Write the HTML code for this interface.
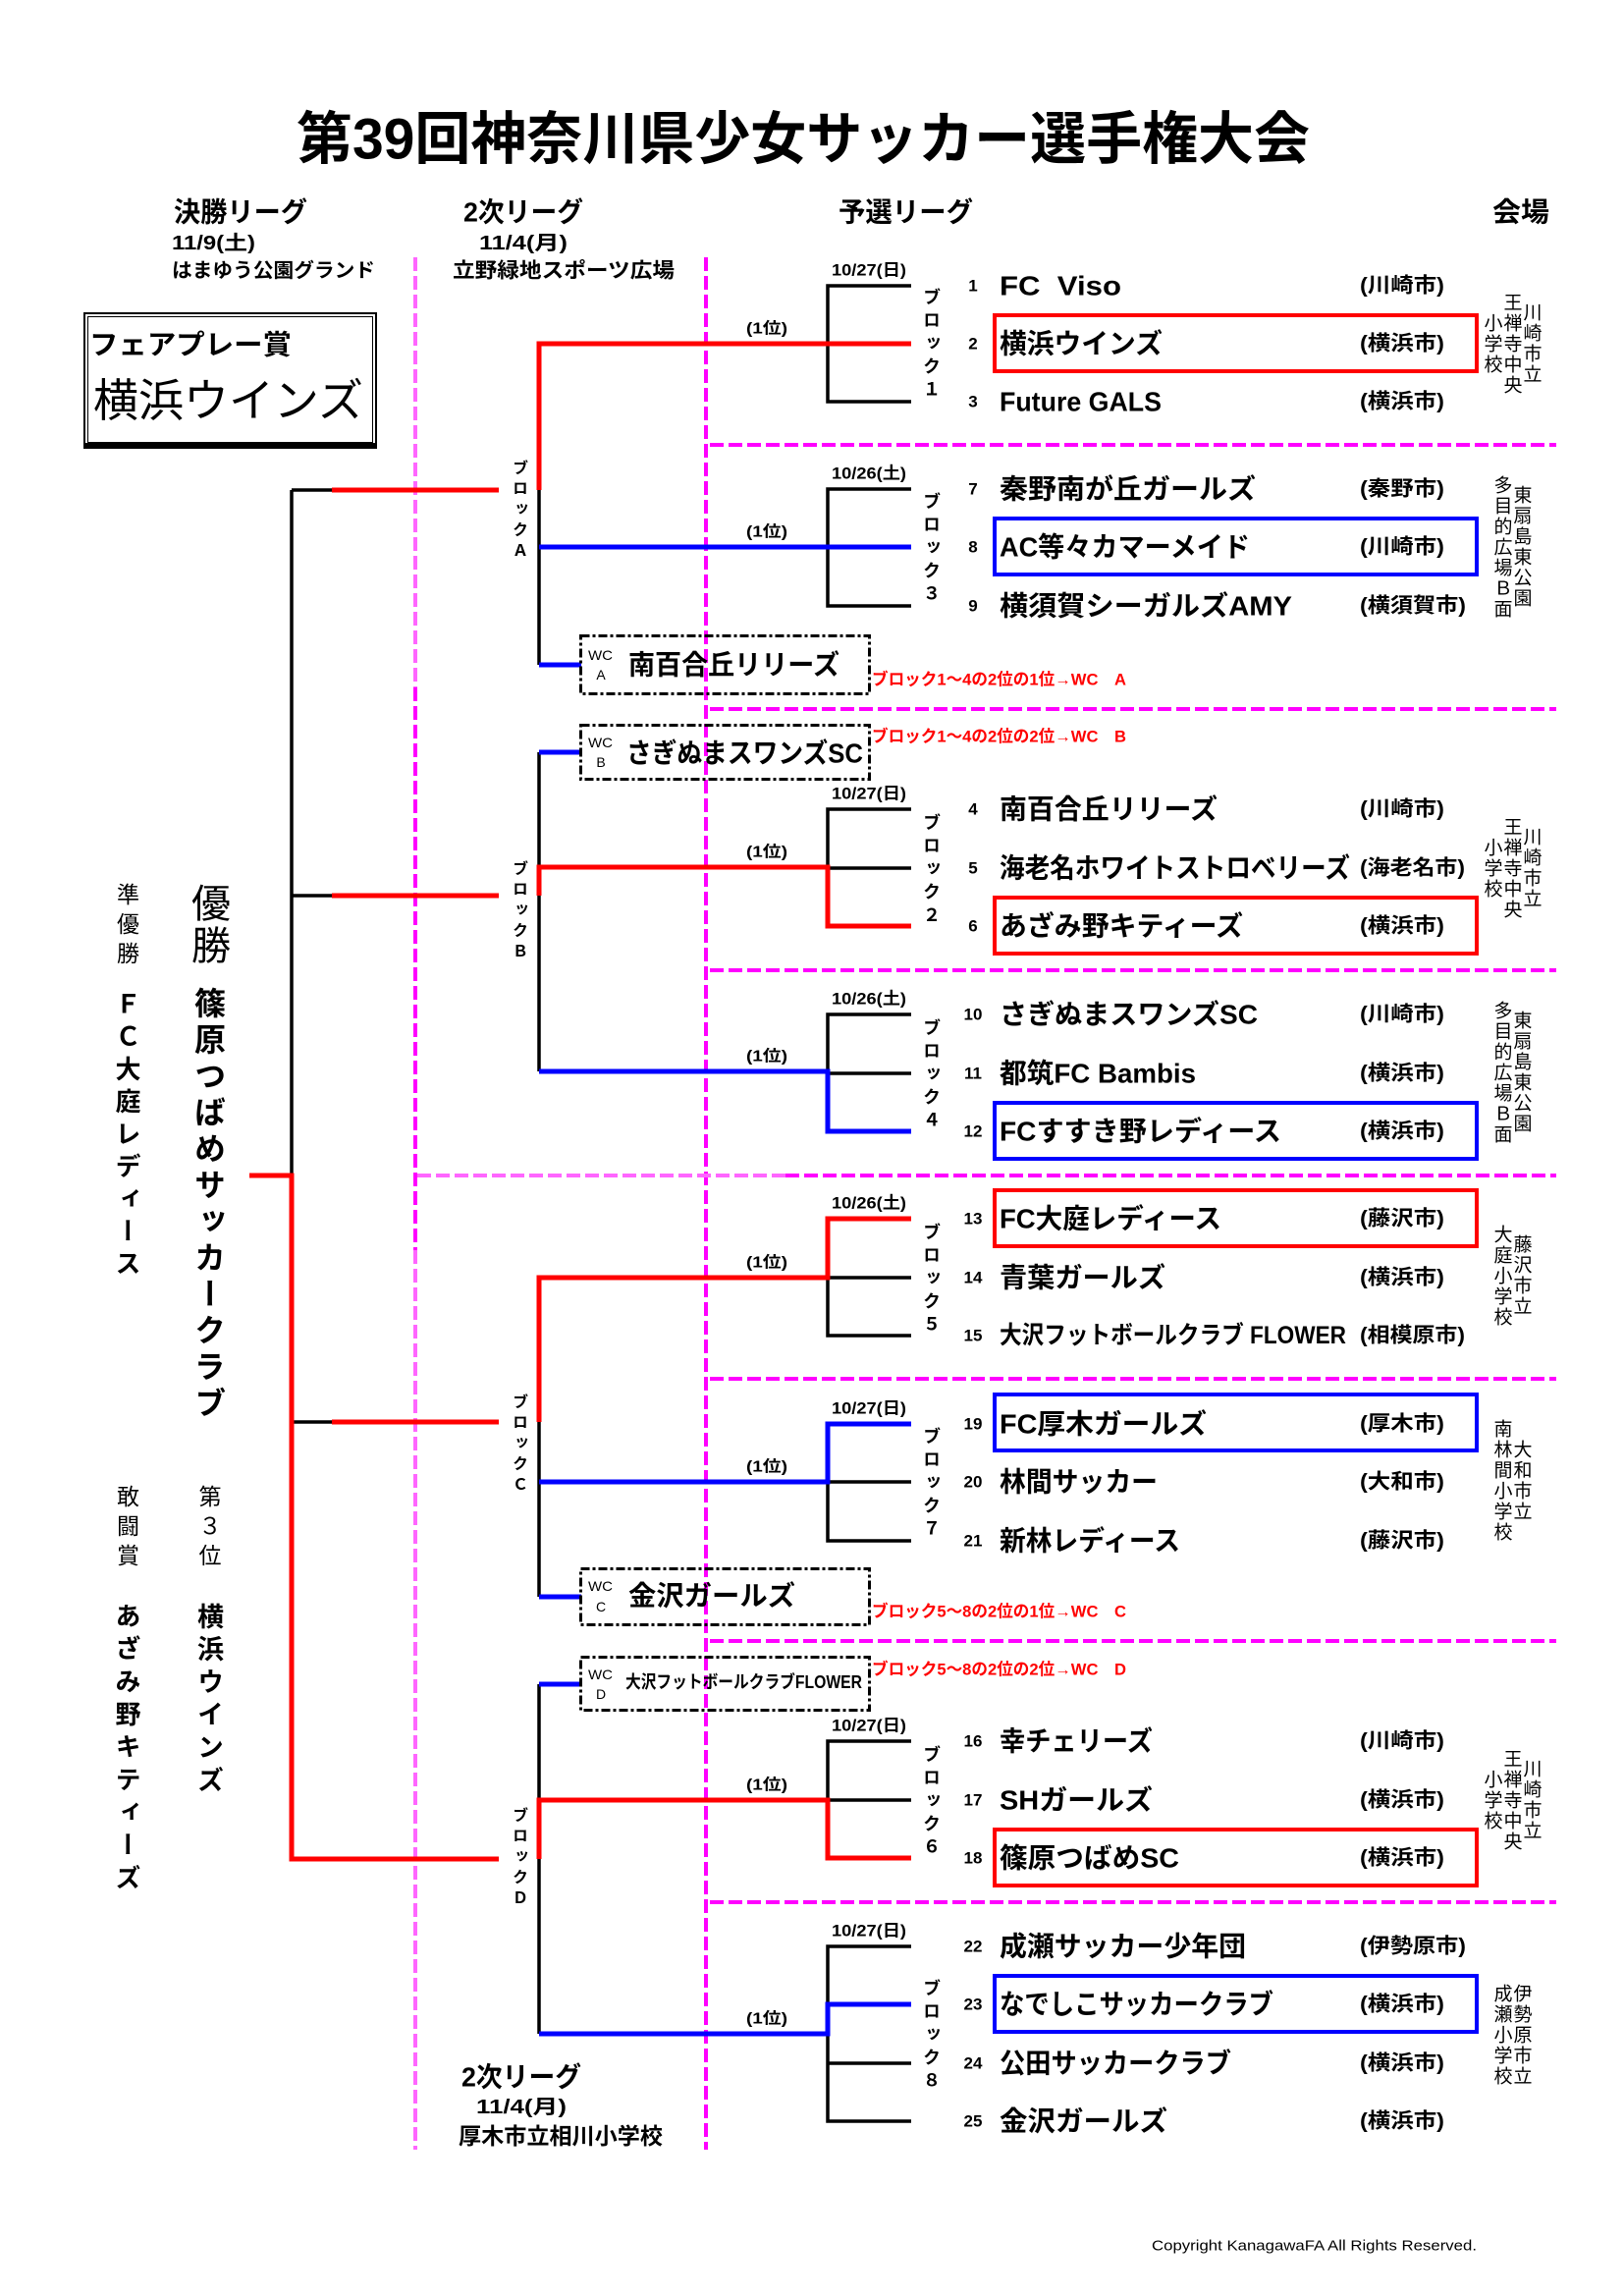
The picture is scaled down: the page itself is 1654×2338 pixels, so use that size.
<!DOCTYPE html>
<html lang="ja">
<head>
<meta charset="utf-8">
<style>
html,body{margin:0;padding:0;background:#fff;}
#wrap{position:relative;width:1654px;height:2338px;overflow:hidden;background:#fff;}
svg{position:absolute;left:0;top:0;}
svg text{dominant-baseline:central;font-family:"Liberation Sans","Noto Sans CJK JP",sans-serif;}
.v{position:absolute;writing-mode:vertical-rl;text-orientation:upright;font-family:"Liberation Sans","Noto Sans CJK JP",sans-serif;white-space:nowrap;color:#000;}
.b{font-weight:bold;}
.vn{font-size:19px;line-height:19px;letter-spacing:2px;width:19px;}
.vb{font-size:18px;line-height:18px;letter-spacing:5.5px;width:18px;font-weight:bold;left:939px;}
.vs{font-size:16px;line-height:16px;letter-spacing:5px;width:16px;font-weight:bold;left:519px;}
</style>
</head>
<body>
<div id="wrap">
<svg width="1654" height="2338" viewBox="0 0 1654 2338">
  <!-- magenta dashed guides -->
  <g stroke-width="4" stroke-dasharray="14 5" fill="none">
    <line x1="423" y1="262" x2="423" y2="700" stroke="#ff66ff"/>
    <line x1="423" y1="700" x2="423" y2="1273" stroke="#ff00ff"/>
    <line x1="423" y1="1273" x2="423" y2="2189" stroke="#ff66ff"/>
    <line x1="719" y1="262" x2="719" y2="2189" stroke="#ff00ff"/>
    <line x1="723" y1="453" x2="1585" y2="453" stroke="#ff00ff"/>
    <line x1="723" y1="722" x2="1585" y2="722" stroke="#ff00ff"/>
    <line x1="723" y1="988" x2="1585" y2="988" stroke="#ff00ff"/>
    <line x1="425" y1="1197" x2="800" y2="1197" stroke="#ff66ff"/>
    <line x1="800" y1="1197" x2="1585" y2="1197" stroke="#ff00ff"/>
    <line x1="723" y1="1404" x2="1585" y2="1404" stroke="#ff00ff"/>
    <line x1="723" y1="1671" x2="1585" y2="1671" stroke="#ff00ff"/>
    <line x1="723" y1="1937" x2="1585" y2="1937" stroke="#ff00ff"/>
  </g>

  <!-- title -->
  <text x="302" y="142" font-size="58" font-weight="bold" textLength="1032" lengthAdjust="spacingAndGlyphs">第39回神奈川県少女サッカー選手権大会</text>

  <!-- headers -->
  <g font-weight="bold">
    <text x="177" y="216" font-size="28" textLength="136" lengthAdjust="spacingAndGlyphs">決勝リーグ</text>
    <text x="175" y="248" font-size="20" textLength="85" lengthAdjust="spacingAndGlyphs">11/9(土)</text>
    <text x="175" y="276" font-size="20" textLength="207" lengthAdjust="spacingAndGlyphs">はまゆう公園グランド</text>
    <text x="472" y="216" font-size="28" textLength="122" lengthAdjust="spacingAndGlyphs">2次リーグ</text>
    <text x="488" y="248" font-size="20" textLength="90" lengthAdjust="spacingAndGlyphs">11/4(月)</text>
    <text x="461" y="276" font-size="21" textLength="226" lengthAdjust="spacingAndGlyphs">立野緑地スポーツ広場</text>
    <text x="854" y="216" font-size="28" textLength="137" lengthAdjust="spacingAndGlyphs">予選リーグ</text>
    <text x="1520" y="216" font-size="28" textLength="58" lengthAdjust="spacingAndGlyphs">会場</text>
    <text x="470" y="2115" font-size="28" textLength="122" lengthAdjust="spacingAndGlyphs">2次リーグ</text>
    <text x="485" y="2146" font-size="20" textLength="92" lengthAdjust="spacingAndGlyphs">11/4(月)</text>
    <text x="467" y="2175" font-size="23" textLength="208" lengthAdjust="spacingAndGlyphs">厚木市立相川小学校</text>
  </g>

  <!-- fair play box -->
  <rect x="86" y="319" width="297" height="136" fill="none" stroke="#000" stroke-width="2"/>
  <rect x="89.5" y="322.5" width="290" height="128" fill="none" stroke="#000" stroke-width="1"/>
  <rect x="85" y="451" width="299" height="6" fill="#000"/>
  <text x="91" y="351" font-size="28" font-weight="bold" textLength="206" lengthAdjust="spacingAndGlyphs">フェアプレー賞</text>
  <text x="95" y="408" font-size="46" textLength="275" lengthAdjust="spacingAndGlyphs">横浜ウインズ</text>

  <!-- black bracket lines -->
  <g stroke="#000" stroke-width="3.5" fill="none" stroke-linejoin="miter">
    <path d="M928 291 H843 V409 H928"/>
    <path d="M928 498 H843 V617 H928"/>
    <path d="M928 824 H843 V884 H928"/>
    <path d="M928 1033 H843 V1093 H928"/>
    <path d="M843 1301 V1360 H928 M843 1301 H928"/>
    <path d="M843 1509 V1569 H928 M843 1509 H928"/>
    <path d="M928 1773 H843 V1833 H928"/>
    <path d="M928 1982 H843 V2041 M843 2071 V2160 H928 M843 2101 H928"/>
    <path d="M549 499 V677"/>
    <path d="M549 766 V883 M549 912 V1091"/>
    <path d="M549 1448 V1626"/>
    <path d="M549 1715 V1833 M549 1893 V2071"/>
    <path d="M297 499 V1197"/>
    <path d="M297 499 H338 M297 912 H338 M297 1448 H338"/>
  </g>

  <!-- red paths -->
  <g stroke="#ff0000" stroke-width="5" fill="none" stroke-linejoin="miter">
    <path d="M928 350 H549 V499"/>
    <path d="M549 912 V883 H843 V943 H928"/>
    <path d="M549 1448 V1301 H843 V1241 H928"/>
    <path d="M549 1893 V1833 H843 V1892 H928"/>
    <path d="M338 499 H508 M338 912 H508 M338 1448 H508"/>
    <path d="M254 1197 H297 V1893 H508"/>
  </g>

  <!-- blue paths -->
  <g stroke="#0000ff" stroke-width="5" fill="none" stroke-linejoin="miter">
    <path d="M928 557 H549"/>
    <path d="M549 677 H592"/>
    <path d="M592 766 H549"/>
    <path d="M549 1091 H843 V1152 H928"/>
    <path d="M928 1450 H843 V1509 H549"/>
    <path d="M549 1626 H592"/>
    <path d="M592 1715 H549"/>
    <path d="M549 2071 H843 V2041 H928"/>
  </g>

  <!-- highlighted team boxes -->
  <g fill="none" stroke-width="4">
    <rect x="1013" y="321" width="491" height="57" stroke="#ff0000"/>
    <rect x="1013" y="528" width="491" height="57" stroke="#0000ff"/>
    <rect x="1013" y="914" width="491" height="57" stroke="#ff0000"/>
    <rect x="1013" y="1123" width="491" height="57" stroke="#0000ff"/>
    <rect x="1013" y="1212" width="491" height="57" stroke="#ff0000"/>
    <rect x="1013" y="1420" width="491" height="57" stroke="#0000ff"/>
    <rect x="1013" y="1863" width="491" height="57" stroke="#ff0000"/>
    <rect x="1013" y="2012" width="491" height="57" stroke="#0000ff"/>
  </g>

  <!-- wild card boxes -->
  <g fill="none" stroke="#000" stroke-width="3" stroke-dasharray="9 3 3 3">
    <rect x="591.5" y="647.5" width="294" height="59"/>
    <rect x="591.5" y="738.5" width="294" height="55"/>
    <rect x="591.5" y="1597.5" width="294" height="57"/>
    <rect x="591.5" y="1687.5" width="294" height="54"/>
  </g>
  <g font-size="14">
    <text x="599" y="667" textLength="25" lengthAdjust="spacingAndGlyphs">WC</text>
    <text x="612" y="687" text-anchor="middle">A</text>
    <text x="599" y="756" textLength="25" lengthAdjust="spacingAndGlyphs">WC</text>
    <text x="612" y="776" text-anchor="middle">B</text>
    <text x="599" y="1615" textLength="25" lengthAdjust="spacingAndGlyphs">WC</text>
    <text x="612" y="1636" text-anchor="middle">C</text>
    <text x="599" y="1705" textLength="25" lengthAdjust="spacingAndGlyphs">WC</text>
    <text x="612" y="1725" text-anchor="middle">D</text>
  </g>
  <g font-weight="bold">
    <text x="640" y="677" font-size="28" textLength="215" lengthAdjust="spacingAndGlyphs">南百合丘リリーズ</text>
    <text x="638" y="767" font-size="28" textLength="241" lengthAdjust="spacingAndGlyphs">さぎぬまスワンズSC</text>
    <text x="640" y="1625" font-size="28" textLength="170" lengthAdjust="spacingAndGlyphs">金沢ガールズ</text>
    <text x="637" y="1713" font-size="18" textLength="241" lengthAdjust="spacingAndGlyphs">大沢フットボールクラブFLOWER</text>
  </g>

  <!-- red annotations -->
  <g fill="#ff0000" font-weight="bold" font-size="17">
    <text x="888" y="692" textLength="259" lengthAdjust="spacingAndGlyphs">ブロック1〜4の2位の1位→WC　A</text>
    <text x="888" y="750" textLength="259" lengthAdjust="spacingAndGlyphs">ブロック1〜4の2位の2位→WC　B</text>
    <text x="888" y="1641" textLength="259" lengthAdjust="spacingAndGlyphs">ブロック5〜8の2位の1位→WC　C</text>
    <text x="888" y="1700" textLength="259" lengthAdjust="spacingAndGlyphs">ブロック5〜8の2位の2位→WC　D</text>
  </g>

  <!-- dates -->
  <g font-weight="bold" font-size="17">
    <text x="847" y="275" textLength="76" lengthAdjust="spacingAndGlyphs">10/27(日)</text>
    <text x="847" y="482" textLength="76" lengthAdjust="spacingAndGlyphs">10/26(土)</text>
    <text x="847" y="808" textLength="76" lengthAdjust="spacingAndGlyphs">10/27(日)</text>
    <text x="847" y="1017" textLength="76" lengthAdjust="spacingAndGlyphs">10/26(土)</text>
    <text x="847" y="1225" textLength="76" lengthAdjust="spacingAndGlyphs">10/26(土)</text>
    <text x="847" y="1434" textLength="76" lengthAdjust="spacingAndGlyphs">10/27(日)</text>
    <text x="847" y="1757" textLength="76" lengthAdjust="spacingAndGlyphs">10/27(日)</text>
    <text x="847" y="1966" textLength="76" lengthAdjust="spacingAndGlyphs">10/27(日)</text>
  </g>

  <!-- (1位) labels -->
  <g font-weight="bold" font-size="16">
    <text x="760" y="335" textLength="42" lengthAdjust="spacingAndGlyphs">(1位)</text>
    <text x="760" y="542" textLength="42" lengthAdjust="spacingAndGlyphs">(1位)</text>
    <text x="760" y="868" textLength="42" lengthAdjust="spacingAndGlyphs">(1位)</text>
    <text x="760" y="1076" textLength="42" lengthAdjust="spacingAndGlyphs">(1位)</text>
    <text x="760" y="1286" textLength="42" lengthAdjust="spacingAndGlyphs">(1位)</text>
    <text x="760" y="1494" textLength="42" lengthAdjust="spacingAndGlyphs">(1位)</text>
    <text x="760" y="1818" textLength="42" lengthAdjust="spacingAndGlyphs">(1位)</text>
    <text x="760" y="2056" textLength="42" lengthAdjust="spacingAndGlyphs">(1位)</text>
  </g>

  <!-- numbers -->
  <g font-weight="bold" font-size="17" text-anchor="middle">
    <text x="991" y="291">1</text>
    <text x="991" y="350">2</text>
    <text x="991" y="409">3</text>
    <text x="991" y="498">7</text>
    <text x="991" y="557">8</text>
    <text x="991" y="617">9</text>
    <text x="991" y="824">4</text>
    <text x="991" y="884">5</text>
    <text x="991" y="943">6</text>
    <text x="991" y="1033">10</text>
    <text x="991" y="1093">11</text>
    <text x="991" y="1152">12</text>
    <text x="991" y="1241">13</text>
    <text x="991" y="1301">14</text>
    <text x="991" y="1360">15</text>
    <text x="991" y="1450">19</text>
    <text x="991" y="1509">20</text>
    <text x="991" y="1569">21</text>
    <text x="991" y="1773">16</text>
    <text x="991" y="1833">17</text>
    <text x="991" y="1892">18</text>
    <text x="991" y="1982">22</text>
    <text x="991" y="2041">23</text>
    <text x="991" y="2101">24</text>
    <text x="991" y="2160">25</text>
  </g>

  <!-- team names -->
  <g font-weight="bold" font-size="28">
    <text x="1018" y="291" textLength="124" lengthAdjust="spacingAndGlyphs">FC&#160;&#160;Viso</text>
    <text x="1018" y="350" textLength="166" lengthAdjust="spacingAndGlyphs">横浜ウインズ</text>
    <text x="1018" y="409" textLength="165" lengthAdjust="spacingAndGlyphs">Future GALS</text>
    <text x="1018" y="498" textLength="261" lengthAdjust="spacingAndGlyphs">秦野南が丘ガールズ</text>
    <text x="1018" y="557" textLength="255" lengthAdjust="spacingAndGlyphs">AC等々カマーメイド</text>
    <text x="1018" y="617" textLength="298" lengthAdjust="spacingAndGlyphs">横須賀シーガルズAMY</text>
    <text x="1018" y="824" textLength="222" lengthAdjust="spacingAndGlyphs">南百合丘リリーズ</text>
    <text x="1018" y="884" textLength="357" lengthAdjust="spacingAndGlyphs">海老名ホワイトストロベリーズ</text>
    <text x="1018" y="943" textLength="248" lengthAdjust="spacingAndGlyphs">あざみ野キティーズ</text>
    <text x="1018" y="1033" textLength="263" lengthAdjust="spacingAndGlyphs">さぎぬまスワンズSC</text>
    <text x="1018" y="1093" textLength="200" lengthAdjust="spacingAndGlyphs">都筑FC Bambis</text>
    <text x="1018" y="1152" textLength="287" lengthAdjust="spacingAndGlyphs">FCすすき野レディース</text>
    <text x="1018" y="1241" textLength="226" lengthAdjust="spacingAndGlyphs">FC大庭レディース</text>
    <text x="1018" y="1301" textLength="169" lengthAdjust="spacingAndGlyphs">青葉ガールズ</text>
    <text x="1018" y="1360" font-size="25" textLength="353" lengthAdjust="spacingAndGlyphs">大沢フットボールクラブ FLOWER</text>
    <text x="1018" y="1450" textLength="211" lengthAdjust="spacingAndGlyphs">FC厚木ガールズ</text>
    <text x="1018" y="1509" textLength="161" lengthAdjust="spacingAndGlyphs">林間サッカー</text>
    <text x="1018" y="1569" textLength="184" lengthAdjust="spacingAndGlyphs">新林レディース</text>
    <text x="1018" y="1773" textLength="156" lengthAdjust="spacingAndGlyphs">幸チェリーズ</text>
    <text x="1018" y="1833" textLength="156" lengthAdjust="spacingAndGlyphs">SHガールズ</text>
    <text x="1018" y="1892" textLength="183" lengthAdjust="spacingAndGlyphs">篠原つばめSC</text>
    <text x="1018" y="1982" textLength="251" lengthAdjust="spacingAndGlyphs">成瀬サッカー少年団</text>
    <text x="1018" y="2041" textLength="279" lengthAdjust="spacingAndGlyphs">なでしこサッカークラブ</text>
    <text x="1018" y="2101" textLength="236" lengthAdjust="spacingAndGlyphs">公田サッカークラブ</text>
    <text x="1018" y="2160" textLength="171" lengthAdjust="spacingAndGlyphs">金沢ガールズ</text>
  </g>

  <!-- cities -->
  <g font-weight="bold" font-size="21">
    <text x="1385" y="291" textLength="86" lengthAdjust="spacingAndGlyphs">(川崎市)</text>
    <text x="1385" y="350" textLength="86" lengthAdjust="spacingAndGlyphs">(横浜市)</text>
    <text x="1385" y="409" textLength="86" lengthAdjust="spacingAndGlyphs">(横浜市)</text>
    <text x="1385" y="498" textLength="86" lengthAdjust="spacingAndGlyphs">(秦野市)</text>
    <text x="1385" y="557" textLength="86" lengthAdjust="spacingAndGlyphs">(川崎市)</text>
    <text x="1385" y="617" textLength="108" lengthAdjust="spacingAndGlyphs">(横須賀市)</text>
    <text x="1385" y="824" textLength="86" lengthAdjust="spacingAndGlyphs">(川崎市)</text>
    <text x="1385" y="884" textLength="107" lengthAdjust="spacingAndGlyphs">(海老名市)</text>
    <text x="1385" y="943" textLength="86" lengthAdjust="spacingAndGlyphs">(横浜市)</text>
    <text x="1385" y="1033" textLength="86" lengthAdjust="spacingAndGlyphs">(川崎市)</text>
    <text x="1385" y="1093" textLength="86" lengthAdjust="spacingAndGlyphs">(横浜市)</text>
    <text x="1385" y="1152" textLength="86" lengthAdjust="spacingAndGlyphs">(横浜市)</text>
    <text x="1385" y="1241" textLength="86" lengthAdjust="spacingAndGlyphs">(藤沢市)</text>
    <text x="1385" y="1301" textLength="86" lengthAdjust="spacingAndGlyphs">(横浜市)</text>
    <text x="1385" y="1360" textLength="107" lengthAdjust="spacingAndGlyphs">(相模原市)</text>
    <text x="1385" y="1450" textLength="86" lengthAdjust="spacingAndGlyphs">(厚木市)</text>
    <text x="1385" y="1509" textLength="86" lengthAdjust="spacingAndGlyphs">(大和市)</text>
    <text x="1385" y="1569" textLength="86" lengthAdjust="spacingAndGlyphs">(藤沢市)</text>
    <text x="1385" y="1773" textLength="86" lengthAdjust="spacingAndGlyphs">(川崎市)</text>
    <text x="1385" y="1833" textLength="86" lengthAdjust="spacingAndGlyphs">(横浜市)</text>
    <text x="1385" y="1892" textLength="86" lengthAdjust="spacingAndGlyphs">(横浜市)</text>
    <text x="1385" y="1982" textLength="108" lengthAdjust="spacingAndGlyphs">(伊勢原市)</text>
    <text x="1385" y="2041" textLength="86" lengthAdjust="spacingAndGlyphs">(横浜市)</text>
    <text x="1385" y="2101" textLength="86" lengthAdjust="spacingAndGlyphs">(横浜市)</text>
    <text x="1385" y="2160" textLength="86" lengthAdjust="spacingAndGlyphs">(横浜市)</text>
  </g>

  <!-- copyright -->
  <text x="1173" y="2287" font-size="15" textLength="331" lengthAdjust="spacingAndGlyphs">Copyright KanagawaFA All Rights Reserved.</text>
</svg>

<!-- left side results (vertical) -->
<div class="v" style="left:116.5px;top:899px;font-size:23px;line-height:23px;width:23px;letter-spacing:7px;">準優勝</div>
<div class="v b" style="left:116px;top:1009px;font-size:26px;line-height:26px;width:26px;letter-spacing:7px;">ＦＣ大庭レディース</div>
<div class="v" style="left:191px;top:899px;font-size:40px;line-height:40px;width:40px;letter-spacing:3px;">優勝</div>
<div class="v b" style="left:196px;top:1005px;font-size:32px;line-height:32px;width:32px;letter-spacing:5px;">篠原つばめサッカークラブ</div>
<div class="v" style="left:116.5px;top:1512px;font-size:23px;line-height:23px;width:23px;letter-spacing:7px;">敢闘賞</div>
<div class="v" style="left:200px;top:1512px;font-size:23px;line-height:23px;width:23px;letter-spacing:7px;">第３位</div>
<div class="v b" style="left:116px;top:1632px;font-size:26px;line-height:26px;width:26px;letter-spacing:7.3px;">あざみ野キティーズ</div>
<div class="v b" style="left:198px;top:1632px;font-size:27px;line-height:27px;width:27px;letter-spacing:6.3px;">横浜ウインズ</div>

<!-- second-level block labels -->
<div class="v vs" style="top:468px;">ブロックＡ</div>
<div class="v vs" style="top:876px;">ブロックＢ</div>
<div class="v vs" style="top:1419px;">ブロックＣ</div>
<div class="v vs" style="top:1840px;">ブロックＤ</div>

<!-- preliminary block labels -->
<div class="v vb" style="top:293px;">ブロック１</div>
<div class="v vb" style="top:501px;">ブロック３</div>
<div class="v vb" style="top:828px;">ブロック２</div>
<div class="v vb" style="top:1037px;">ブロック４</div>
<div class="v vb" style="top:1245px;">ブロック５</div>
<div class="v vb" style="top:1453px;">ブロック７</div>
<div class="v vb" style="top:1777px;">ブロック６</div>
<div class="v vb" style="top:2015px;">ブロック８</div>

<!-- venues -->
<div class="v vn" style="left:1549.5px;top:308px;">川崎市立</div>
<div class="v vn" style="left:1529.5px;top:297.5px;">王禅寺中央</div>
<div class="v vn" style="left:1509.5px;top:318.5px;">小学校</div>

<div class="v vn" style="left:1539.5px;top:494px;">東扇島東公園</div>
<div class="v vn" style="left:1519.5px;top:483.5px;">多目的広場Ｂ面</div>

<div class="v vn" style="left:1549.5px;top:842px;">川崎市立</div>
<div class="v vn" style="left:1529.5px;top:831.5px;">王禅寺中央</div>
<div class="v vn" style="left:1509.5px;top:852.5px;">小学校</div>

<div class="v vn" style="left:1539.5px;top:1029px;">東扇島東公園</div>
<div class="v vn" style="left:1519.5px;top:1018.5px;">多目的広場Ｂ面</div>

<div class="v vn" style="left:1539.5px;top:1257px;">藤沢市立</div>
<div class="v vn" style="left:1519.5px;top:1246.5px;">大庭小学校</div>

<div class="v vn" style="left:1539.5px;top:1466px;">大和市立</div>
<div class="v vn" style="left:1519.5px;top:1445px;">南林間小学校</div>

<div class="v vn" style="left:1549.5px;top:1791px;">川崎市立</div>
<div class="v vn" style="left:1529.5px;top:1780.5px;">王禅寺中央</div>
<div class="v vn" style="left:1509.5px;top:1801.5px;">小学校</div>

<div class="v vn" style="left:1539.5px;top:2019.5px;">伊勢原市立</div>
<div class="v vn" style="left:1519.5px;top:2019.5px;">成瀬小学校</div>
</div>
</body>
</html>
